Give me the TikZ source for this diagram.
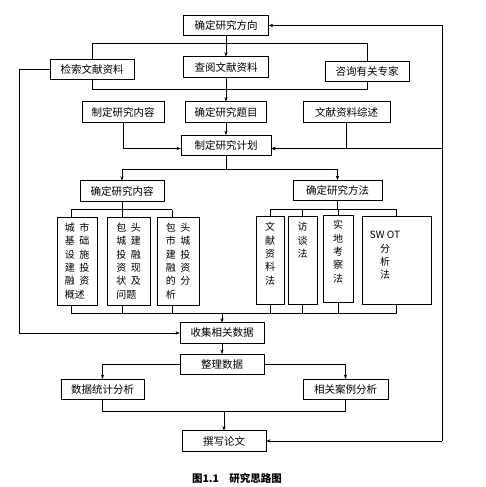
\documentclass[tikz,border=0pt]{standalone}
\usepackage{fontspec}
\newfontfamily\cjk{Noto Sans CJK SC}
\usetikzlibrary{positioning,arrows.meta}

\begin{document}
\begin{tikzpicture}[x=1pt,y=-1pt,>={Stealth[length=1.5mm,width=1.2mm]},line width=0.6pt,
  box/.style={draw,inner sep=0pt,minimum width=#1,minimum height=20.5pt,font=\cjk\fontsize{10.5}{12}\selectfont},
  box/.default=84pt,
  tall/.style={draw,inner sep=0pt,minimum width=#1,minimum height=88pt,align=left,font=\cjk\fontsize{10}{13.3}\selectfont}]
\useasboundingbox (0,0) rectangle (486,487);
% top part
\node[box=85pt] (fx) at (226,25.5) {确定研究方向};
\node[box] (js) at (92,69.5) {检索文献资料};
\node[box=85pt] (cy) at (226,67) {查阅文献资料};
\node[box] (zj) at (367,71.5) {咨询有关专家};
\node[box=82pt] (nr) at (123,112) {制定研究内容};
\node[box=81pt] (tm) at (226,112) {确定研究题目};
\node[box=87pt] (zs) at (346.5,112) {文献资料综述};
\node[box=90pt] (jh) at (226,145.5) {制定研究计划};
\node[box] (ynr) at (122,191) {确定研究内容};
\node[box=89pt] (yff) at (337.5,190.5) {确定研究方法};
% content boxes
\node[tall=40pt] (ga) at (77,261) {城\hspace{4.5pt}市\\基\hspace{4.5pt}础\\设\hspace{4.5pt}施\\建\hspace{4.5pt}投\\融\hspace{4.5pt}资\\概述};
\node[tall=43pt] (gb) at (128.5,261) {包\hspace{4.5pt}头\\城\hspace{4.5pt}建\\投\hspace{4.5pt}融\\资\hspace{4.5pt}现\\状\hspace{4.5pt}及\\问题};
\node[tall=42pt] (gc) at (178,261) {包\hspace{4.5pt}头\\市\hspace{4.5pt}城\\建\hspace{4.5pt}投\\融\hspace{4.5pt}资\\的\hspace{4.5pt}分\\析};
% method boxes
\node[tall=28pt] (fa) at (270,260.5) {\parbox[c][76pt][t]{20pt}{\centering 文\\献\\资\\料\\法}};
\node[tall=29pt] (fb) at (302.5,260.5) {\parbox[c][76pt][t]{20pt}{\centering 访\\谈\\法}};
\node[tall=30pt,minimum height=87pt] (fc) at (338,258.5) {\parbox[c][76pt][t]{20pt}{\centering 实\\地\\考\\察\\法}};
\node[tall=69pt] (fd) at (396.5,260.5) {\parbox[c][76pt][t]{46pt}{\centering\vspace*{9pt}SW OT\\分\\析\\法}\hspace{23pt}};
% lower part
\node[box] (sj) at (222,333) {收集相关数据};
\node[box] (zl) at (222,364.5) {整理数据};
\node[box=83pt] (tj) at (102.5,389.5) {数据统计分析};
\node[box=85pt] (al) at (345.5,389.5) {相关案例分析};
\node[box] (xz) at (224,441) {撰写论文};
\node[font=\cjk\bfseries\fontsize{10.5}{12}\selectfont] (cap) at (237,478) {图1.1\quad 研究思路图};

\draw[->] (fx) -- (cy);
\draw (js.north) -- (js.north |- 0,43) -| (zj.north);
\draw (js.south) -- (js.south |- 0,89) -| (zj.south);
\draw[->] (cy) -- (tm);
\draw[->] (tm) -- (jh);
\draw[->] (nr.south) |- ([yshift=-3pt]jh.west);
\draw[->] (zs.south) |- ([yshift=-3pt]jh.east);
% feedback loops
\coordinate (rl) at (442,441);
\draw[->] (rl) |- (fx.east);
\draw[->] ([yshift=-3pt]jh.east -| rl) -- ([yshift=-3pt]jh.east);
\draw[->] (rl) -- (xz.east);
\draw[->] (js.west) -- ++(-30,0) |- (sj.west);
% plan split
\draw (jh.south) -- ++(0,13) coordinate (sp);
\draw[->] (sp) -| (ynr);
\draw[->] (sp) -| (yff);
\draw (ynr.south) -- ++(0,8) coordinate (lt);
\draw ([xshift=-6pt]ga.north |- lt) -- ([xshift=-6pt]gc.north |- lt);
\foreach \b in {ga,gb,gc}
  \draw ([xshift=-6pt]\b.north |- lt) -- ([xshift=-6pt]\b.north);
\draw (yff.south) -- ++(0,8) coordinate (rt);
\draw (fa.north |- rt) -- (fd.north |- rt);
\foreach \b in {fa,fb,fc,fd}
  \draw (\b.north |- rt) -- (\b.north);
% gather
\coordinate (bt) at (0,313);
\foreach \b in {ga,gb,gc}
  \draw ([xshift=-6pt]\b.south) -- ([xshift=-6pt]\b.south |- bt);
\foreach \b in {fa,fb,fc,fd}
  \draw (\b.south) -- (\b.south |- bt);
\draw ([xshift=-6pt]ga.south |- bt) -- (fd.south |- bt);
\draw[->] (sj.north |- bt) -- (sj);
\draw[->] (sj) -- (zl);
\draw[->] (zl.west) -| (tj);
\draw[->] (zl.east) -| (al);
\draw (tj.south) -- ++(0,11) coordinate (tb) -| (al.south);
\draw[->] (tb -| xz.north) -- (xz);
\end{tikzpicture}
\end{document}
